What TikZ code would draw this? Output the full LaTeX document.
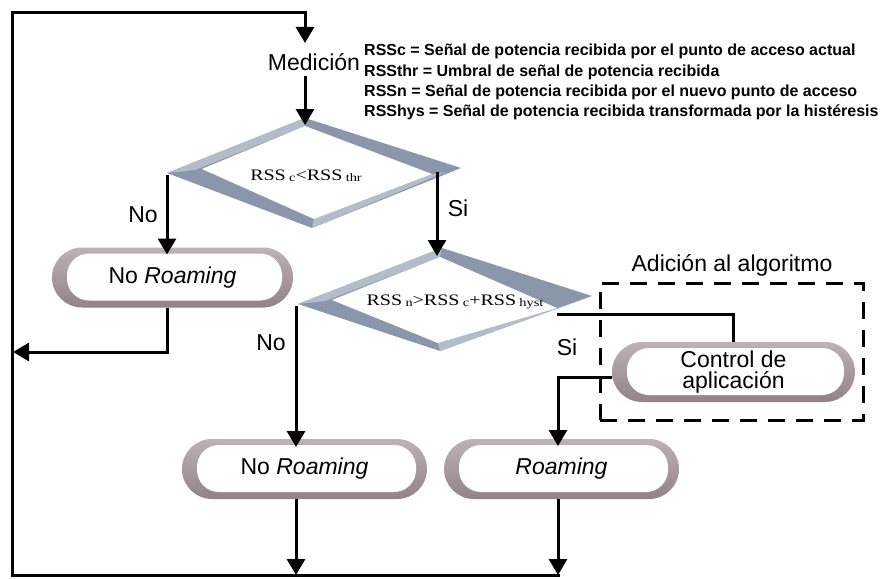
\documentclass[tikz,border=0pt]{standalone}
\usepackage{fontspec}
\setmainfont{Liberation Sans}
\newfontfamily\condfont{Liberation Serif}
\usetikzlibrary{arrows.meta,shapes.misc,calc}

\definecolor{band}{HTML}{8A96AA}
\definecolor{bandlight}{HTML}{B3BCC9}
\definecolor{pilltop}{HTML}{BDB2B6}
\definecolor{pillbot}{HTML}{928288}

% small index after RSS inside the decision boxes
\newcommand\rsub[1]{\,{\fontsize{11.5}{11.5}\selectfont\raisebox{-1pt}{#1}}}

\tikzset{
  wire/.style={line width=3pt},
  flow/.style={wire, -{Triangle[width=18pt,length=16pt]}},
  pill/.style={shape=rounded rectangle, minimum width=#1, minimum height=60pt,
    inner sep=0pt, outer sep=0pt, top color=pilltop, bottom color=pillbot,
    font=\fontsize{23}{21.5}\selectfont, align=center,
    path picture={\fill[white, rounded corners=22pt]
      ([xshift=15pt,yshift=7pt]path picture bounding box.south west) rectangle
      ([xshift=-11pt,yshift=-6pt]path picture bounding box.north east);}},
  lab/.style={font=\fontsize{23}{23}\selectfont, inner sep=0pt},
  cond/.style={font=\condfont\fontsize{16}{16}\selectfont, inner sep=0pt},
  legend/.style={font=\fontsize{16}{20.3}\selectfont\bfseries, inner sep=0pt, align=left},
  addbox/.style={wire, draw, dash pattern=on 17pt off 11pt, inner sep=0pt},
}

\begin{document}
\begin{tikzpicture}[x=1pt,y=-1pt]
\fill[white] (0,0) rectangle (885,578);
\useasboundingbox (0,0) rectangle (885,578);

% decision 1
\fill[band] (167,173) -- (305,118) -- (461,168) -- (312,228) -- cycle;
\fill[bandlight] (167,173) -- (305,118) -- (305,126) -- (195,170) -- cycle;
\fill[bandlight] (432,174) -- (314,219) -- (312,228) -- (446,172) -- cycle;
\fill[white] (202,169) -- (305,126) -- (432,174) -- (314,219) -- cycle;
\node[cond] (d1) at (306,176) {\scalebox{1.25}[1]{RSS\rsub{c}<RSS\rsub{thr}}};

% decision 2
\fill[band] (298,304) -- (442,248) -- (592,296) -- (440,351) -- cycle;
\fill[bandlight] (298,304) -- (442,248) -- (440,257) -- (325,301) -- cycle;
\fill[bandlight] (557,308) -- (438,343) -- (440,351) -- (575,302) -- cycle;
\fill[white] (332,300) -- (440,257) -- (557,308) -- (438,343) -- cycle;
\node[cond] (d2) at (455,302) {\scalebox{1.25}[1]{RSS\rsub{n}>RSS\rsub{c}+RSS\rsub{hyst}}};

% terminals
\node[pill=241pt] (p1) at (172.5,277.5) {No \textit{Roaming}};
\node[pill=245pt] (p2) at (304.5,469) {No \textit{Roaming}};
\node[pill=235pt] (p3) at (561.5,469) {\textit{Roaming}};
\node[pill=243pt] (ctrl) at (733.5,372) {Control de\\aplicación};

% algorithm addition frame
\node[addbox, minimum width=263pt, minimum height=137pt] (frame) at (731.5,351.5) {};
\node[lab] (framelbl) at (732,265) {Adición al algoritmo};

% measurement and legend
\node[lab] (med) at (314,62) {Medición};
\node[legend, anchor=north west] (leg) at (364,44) {RSSc = Señal de potencia recibida por el punto de acceso actual\\
RSSthr = Umbral de señal de potencia recibida\\
RSSn = Señal de potencia recibida por el nuevo punto de acceso\\
RSShys = Señal de potencia recibida transformada por la histéresis};

% branch labels
\node[lab] (no1) at (143,215) {No};
\node[lab] (si1) at (458,208) {Si};
\node[lab] (no2) at (271,343) {No};
\node[lab] (si2) at (567,347) {Si};

% junction points
\coordinate (medIn) at (305,43);
\coordinate (medOut) at (305,76);
\coordinate (d1In) at (305,125);
\coordinate (d1L) at (167,175);
\coordinate (d1Si) at (437,172);
\coordinate (d2In) at (437,256);
\coordinate (d2L) at (296,306);
\coordinate (d2Si) at (557,314);
\coordinate (ret1) at (13,352);
\coordinate (j3) at (558,377);
\coordinate (loopBR) at (559.5,575);
\coordinate (loopBL) at (12,575);
\coordinate (loopTL) at (12,13);
\coordinate (loopTR) at (305,13);

% connectors
\draw[flow] (loopBR) -- (loopBL) -- (loopTL) -- (loopTR) -- (medIn);
\draw[flow] (medOut) -- (d1In);
\draw[flow] (d1L) -- ($(d1L |- p1.north)+(0,7)$);
\draw[flow] (p1.south -| d1L) -- (d1L |- ret1) -- (ret1);
\draw[flow] (d1Si) -- (d2In);
\draw[flow] (d2L) -- ($(d2L |- p2.north)+(0,8)$);
\draw[wire] (d2Si) -- (d2Si -| ctrl) -- (ctrl.north);
\draw[flow] ([yshift=-5pt]ctrl.west) -- (j3) -- ($(j3 |- p3.north)+(0,7)$);
\draw[flow] (p2.south -| d2L) -- (d2L |- loopBL);
\draw[flow] (p3.south -| j3) -- (j3 |- loopBL);
\end{tikzpicture}
\end{document}
